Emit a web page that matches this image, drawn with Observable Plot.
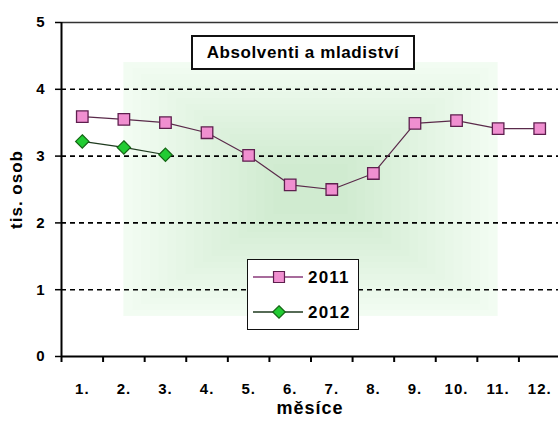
<!DOCTYPE html>
<html>
<head>
<meta charset="utf-8">
<script src="https://cdn.jsdelivr.net/npm/d3@7"></script>
<script src="https://cdn.jsdelivr.net/npm/@observablehq/plot@0.6"></script>
<style>
  body { margin: 0; background: #fff; font-family: "Liberation Sans", Arial, sans-serif; }
  #wrap { position: relative; width: 558px; height: 421px; overflow: hidden; background: #fff; }
  #wrap > svg { position: absolute; left: 0; top: 0; }
  #wrap svg text { font-weight: bold; letter-spacing: 1px; }
  .title { position: absolute; left: 191px; top: 35px; width: 224px; height: 35px; box-sizing: border-box;
           border: 2px solid #111; background: #fff; font-weight: bold; font-size: 17px; letter-spacing: 0.6px;
           text-align: center; line-height: 31px; color: #000; }
  .legend { position: absolute; left: 247px; top: 259px; width: 112px; height: 71px; box-sizing: border-box;
            border: 1.5px solid #111; background: #fff; }
  .legend svg { position: absolute; left: 0; top: 0; }
</style>
</head>
<body>
<div id="wrap"></div>
<script>
// ---- data ----
const months = [1, 2, 3, 4, 5, 6, 7, 8, 9, 10, 11, 12];
const monthLabels = ["1.", "2.", "3.", "4.", "5.", "6.", "7.", "8.", "9.", "10.", "11.", "12."];
const values2011 = [3.59, 3.55, 3.50, 3.35, 3.01, 2.57, 2.50, 2.74, 3.49, 3.53, 3.41, 3.41];
const values2012 = [3.22, 3.13, 3.02];
const seriesNames = ["2011", "2012"];
const yTicks = [0, 1, 2, 3, 4, 5];
const yTickLabels = ["0", "1", "2", "3", "4", "5"];
const gridValues = [1, 2, 3, 4];
const titleText = "Absolventi a mladiství";
const yLabel = "tis. osob";
const xLabel = "měsíce";

// ---- styles ----
const col2011 = { line: "#5a2a4a", fill: "#f08fd0", stroke: "#5e1f4e" };
const col2012 = { line: "#1e3a1e", fill: "#22cc33", stroke: "#146614" };

const d2011 = values2011.map((v, i) => ({ month: months[i], value: v }));
const d2012 = values2012.map((v, i) => ({ month: months[i], value: v }));
const boundaries = [0.5, ...months.map(m => m + 0.5)];

// decorative background: nested rectangles approximating a centre gradient
const bg = { x1: 2, x2: 11, y1: 0.6, y2: 4.4 };
const nLayers = 18;
const layers = d3.range(nLayers).map(k => {
  const t = k / nLayers * 0.85;
  const cx = (bg.x1 + bg.x2) / 2, cy = (bg.y1 + bg.y2) / 2;
  return {
    x1: bg.x1 + (cx - bg.x1) * t, x2: bg.x2 - (bg.x2 - cx) * t,
    y1: bg.y1 + (cy - bg.y1) * t, y2: bg.y2 - (bg.y2 - cy) * t,
    op: k === 0 ? 0.1 : 0.019
  };
});

const chart = Plot.plot({
  width: 558,
  height: 421,
  marginLeft: 61,
  marginTop: 22,
  marginBottom: 65,
  marginRight: 0,
  style: { fontFamily: "'Liberation Sans', Arial, sans-serif", background: "transparent", color: "#000", overflow: "visible" },
  x: { type: "linear", domain: [0.5, 12.5], range: [61, 560] },
  y: { domain: [0, 5], range: [356, 22] },
  marks: [
    Plot.rect(layers, { x1: "x1", x2: "x2", y1: "y1", y2: "y2", fill: "#80e080", fillOpacity: "op" }),
    Plot.ruleY(gridValues, { stroke: "#000", strokeWidth: 1.6, strokeDasharray: "5,4" }),
    Plot.ruleY([5], { stroke: "#333", strokeWidth: 1.5 }),
    Plot.axisY({ ticks: yTicks, tickSize: 6, tickPadding: 10, fontSize: 15, label: null, strokeWidth: 1.5,
                 tickFormat: (d, i) => yTickLabels[i] }),
    Plot.axisX({ ticks: boundaries, tickSize: 6, tickFormat: () => "", label: null, strokeWidth: 2 }),
    Plot.axisX({ ticks: months, tickSize: 0, tickPadding: 27, tickFormat: (d, i) => monthLabels[i], fontSize: 15, label: null }),
    Plot.ruleX([0.5], { stroke: "#000", strokeWidth: 2 }),
    Plot.ruleY([0], { stroke: "#000", strokeWidth: 2 }),
    Plot.line(d2011, { x: "month", y: "value", stroke: col2011.line, strokeWidth: 1.2 }),
    Plot.dot(d2011, { x: "month", y: "value", symbol: "square", r: 6.5, fill: col2011.fill, stroke: col2011.stroke, strokeWidth: 1.3 }),
    Plot.line(d2012, { x: "month", y: "value", stroke: col2012.line, strokeWidth: 1.2 }),
    Plot.dot(d2012, { x: "month", y: "value", symbol: "diamond2", r: 6, fill: col2012.fill, stroke: col2012.stroke, strokeWidth: 1.2 }),
    Plot.text([yLabel], { frameAnchor: "left", dx: -45, textAnchor: "middle", rotate: -90, fontSize: 17 }),
    Plot.text([xLabel], { frameAnchor: "bottom", dy: 57, fontSize: 18 })
  ]
});

const wrap = document.getElementById("wrap");
wrap.appendChild(chart);

// title box
const title = document.createElement("div");
title.className = "title";
title.textContent = titleText;
wrap.appendChild(title);

// legend box
const legend = document.createElement("div");
legend.className = "legend";
wrap.appendChild(legend);
const lsvg = d3.select(legend).append("svg").attr("width", 112).attr("height", 71);
const legendItems = [
  { name: seriesNames[0], c: col2011, sym: d3.symbolSquare, size: 120 },
  { name: seriesNames[1], c: col2012, sym: d3.symbolDiamond2, size: 100 }
];
legendItems.forEach((it, i) => {
  const cy = 17 + i * 35;
  lsvg.append("line").attr("x1", 5).attr("x2", 55).attr("y1", cy).attr("y2", cy)
    .attr("stroke", i === 0 ? "#8a3a7a" : it.c.line).attr("stroke-width", 1.3);
  lsvg.append("path").attr("d", d3.symbol(it.sym, it.size)()).attr("transform", `translate(31,${cy})`)
    .attr("fill", it.c.fill).attr("stroke", it.c.stroke).attr("stroke-width", 1.2);
  lsvg.append("text").attr("x", 60).attr("y", cy).attr("dy", "0.36em")
    .attr("font-size", 17).attr("font-weight", "bold").style("letter-spacing", "1.2px")
    .attr("font-family", "'Liberation Sans', Arial, sans-serif").text(it.name);
});
</script>
</body>
</html>
